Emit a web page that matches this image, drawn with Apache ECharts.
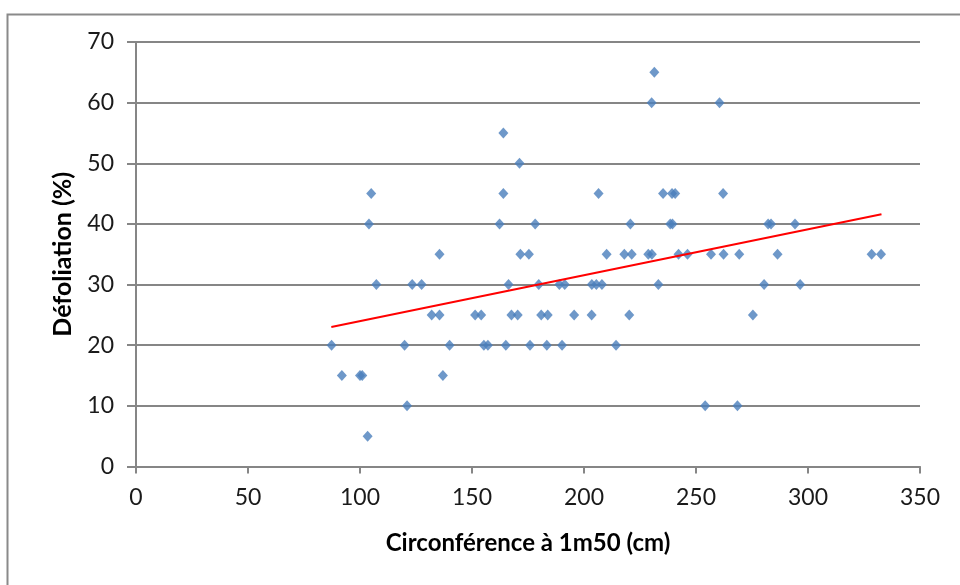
<!DOCTYPE html>
<html>
<head>
<meta charset="utf-8">
<script src="https://cdn.jsdelivr.net/npm/echarts@6/dist/echarts.min.js"></script>
<style>html,body{margin:0;padding:0;background:#fff}#c{width:960px;height:585px}</style>
</head>
<body>
<div id="c"></div>
<script>
// Circonférence (cm) values grouped by défoliation level (%)
var circ65 = [231.4];
var circ60 = [230.2, 260.5];
var circ55 = [164];
var circ50 = [171.2];
var circ45 = [105, 164, 206.5, 235.3, 239.3, 240.7, 262.1];
var circ40 = [104, 162.3, 178.2, 220.7, 238.5, 239.5, 282.2, 283.5, 294.2];
var circ35 = [135.5, 171.6, 175.4, 210.1, 218, 221.3, 228.7, 230.3, 242.2, 246.2, 256.7, 262.3, 269.3, 286.4, 328.4, 332.6];
var circ30 = [107.3, 123.3, 127.5, 166.3, 179.8, 189, 191.4, 203.5, 205.5, 208, 233.2, 280.4, 296.5];
var circ25 = [132, 135.5, 151.4, 154.1, 167.6, 170.4, 180.9, 183.8, 195.6, 203.4, 220.2, 275.4];
var circ20 = [87.3, 119.9, 140, 155.3, 157.1, 165.1, 175.9, 183.4, 190.2, 214.3];
var circ15 = [91.9, 100, 101, 137];
var circ10 = [121, 254.1, 268.5];
var circ5 = [103.4];
var defolLevels = [65, 60, 55, 50, 45, 40, 35, 30, 25, 20, 15, 10, 5];
var trendX = [87.2, 332.8];
var trendY = [23.0, 41.6];

var groups = [circ65, circ60, circ55, circ50, circ45, circ40, circ35, circ30, circ25, circ20, circ15, circ10, circ5];
var points = [];
groups.forEach(function (g, i) {
  g.forEach(function (x) { points.push([x, defolLevels[i]]); });
});
var trend = trendX.map(function (x, i) { return [x, trendY[i]]; });

var chart = echarts.init(document.getElementById('c'), null, {renderer: 'canvas'});
var grey = '#868686';
var font = 'Lato, "Open Sans", sans-serif';
chart.setOption({
  animation: false,
  backgroundColor: '#fff',
  graphic: [{
    type: 'rect', left: 5, top: 12, silent: true,
    shape: {x: 0, y: 0, width: 1000, height: 700},
    style: {fill: 'none', stroke: '#8a8a8a', lineWidth: 2}
  }],
  grid: {left: 136, right: 40, top: 42, bottom: 118.5, containLabel: false},
  xAxis: {
    type: 'value', min: 0, max: 350, interval: 50,
    name: 'Circonférence à 1m50 (cm)', nameLocation: 'middle', nameGap: 65,
    nameTextStyle: {fontFamily: font, fontWeight: 'bold', fontSize: 24, color: '#000'},
    axisLine: {show: true, lineStyle: {color: grey, width: 2}},
    axisTick: {show: true, length: 7, lineStyle: {color: grey, width: 2}},
    axisLabel: {fontFamily: font, fontSize: 23, color: '#1a1a1a', margin: 20},
    splitLine: {show: false}
  },
  yAxis: {
    type: 'value', min: 0, max: 70, interval: 10,
    name: 'Défoliation (%)', nameLocation: 'middle', nameGap: 61, nameRotate: 90,
    nameTextStyle: {fontFamily: font, fontWeight: 'bold', fontSize: 25, color: '#000'},
    axisLine: {show: true, lineStyle: {color: grey, width: 2}},
    axisTick: {show: true, inside: false, length: 9, lineStyle: {color: grey, width: 2}},
    axisLabel: {fontFamily: font, fontSize: 23, color: '#1a1a1a', margin: 22},
    splitLine: {show: true, lineStyle: {color: grey, width: 2}}
  },
  series: [{
    type: 'scatter',
    data: points,
    symbol: 'diamond',
    symbolSize: [10, 11],
    itemStyle: {color: '#4a7ebb'},
    z: 3
  }, {
    type: 'line',
    data: trend,
    showSymbol: false,
    symbol: 'none',
    lineStyle: {color: '#ff0000', width: 2},
    z: 4
  }]
});
</script>
</body>
</html>
